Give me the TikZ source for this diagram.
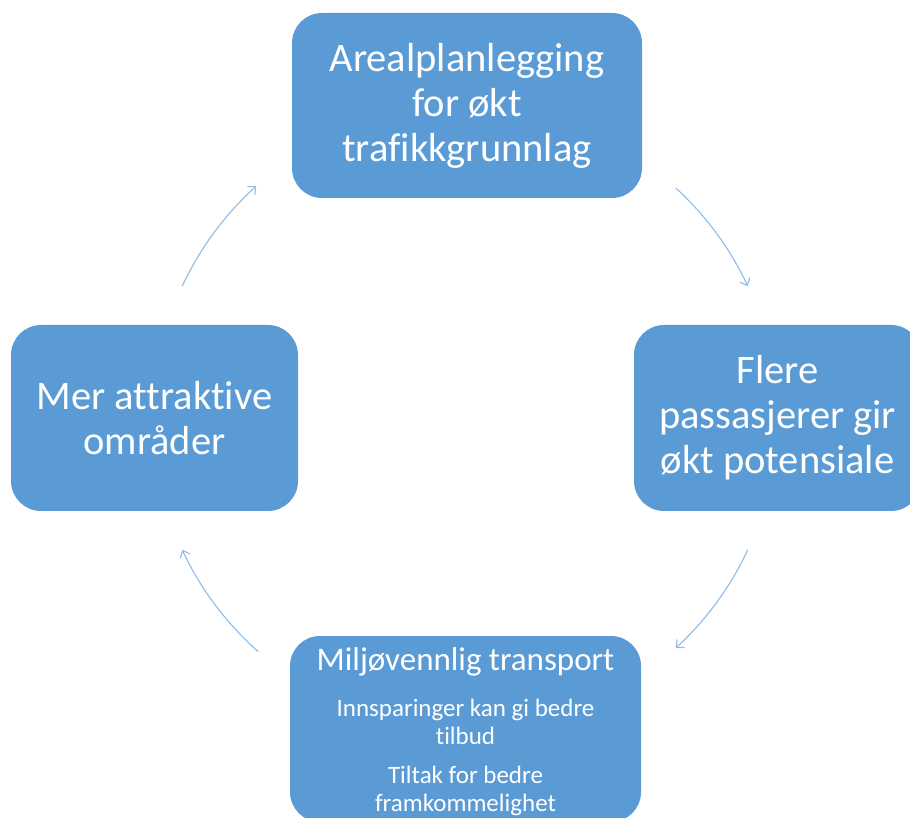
\documentclass[tikz,border=0pt]{standalone}
\usepackage{fontspec}
\setmainfont[Ligatures=NoCommon]{Carlito}
\usetikzlibrary{arrows.meta,calc}
\definecolor{boxblue}{HTML}{5B9BD5}
\definecolor{arrowblue}{HTML}{8FBCE6}
\begin{document}
\begin{tikzpicture}[x=1pt,y=1pt,
  box/.style={draw=none, fill=boxblue, rounded corners=30pt, text=white, align=center, inner sep=0pt},
  conn/.style={draw=arrowblue, line width=1.1pt, -{Straight Barb[length=6pt,width=11pt]}}]
\useasboundingbox (0,0) rectangle (910,817);
\clip (0,0) rectangle (910,817);
\node[box, minimum width=350pt, minimum height=185pt, font=\fontsize{40.5}{45}\selectfont] (top) at (467,711.5) {Arealplanlegging\\for økt\\trafikkgrunnlag};
\node[box, minimum width=287pt, minimum height=186pt, font=\fontsize{40.5}{45}\selectfont] (right) at (777.5,399) {Flere\\passasjerer gir\\økt potensiale};
\node[box, minimum width=287pt, minimum height=186pt, font=\fontsize{40.5}{45}\selectfont] (left) at (154.5,399) {Mer attraktive\\områder};
\node[box, minimum width=351pt, minimum height=186pt, font=\fontsize{25}{28}\selectfont] (bottom) at (465.5,88) {{\fontsize{33}{40}\selectfont\rule{0pt}{28pt}Miljøvennlig transport}\\[18pt]Innsparinger kan gi bedre\\tilbud\\[11pt]Tiltak for bedre\\framkommelighet};
\coordinate (ctr) at (465,399);
\coordinate (a1) at ($(ctr)+(47.5:312)$);
\coordinate (a2) at ($(ctr)+(-25:312)$);
\coordinate (a3) at ($(ctr)+(228.5:312)$);
\coordinate (a4) at ($(ctr)+(155:312)$);
\draw[conn] (a1) arc[start angle=47.5, end angle=25, radius=312];
\draw[conn] (a2) arc[start angle=-25, end angle=-47.5, radius=312];
\draw[conn] (a3) arc[start angle=228.5, end angle=205, radius=312];
\draw[conn] (a4) arc[start angle=155, end angle=132, radius=312];
\end{tikzpicture}
\end{document}
